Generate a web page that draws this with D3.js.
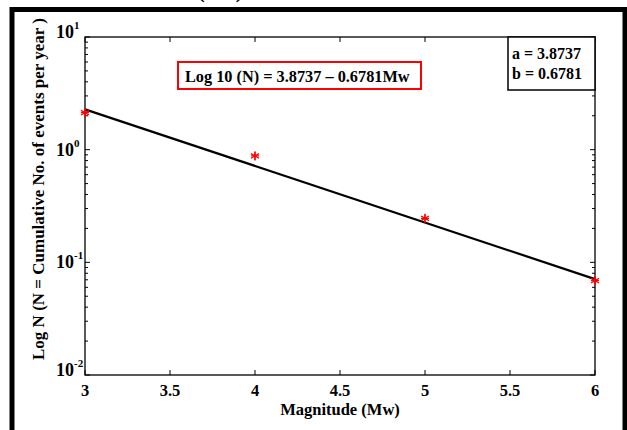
<!DOCTYPE html>
<html><head><meta charset="utf-8">
<script src="https://cdn.jsdelivr.net/npm/d3@7"></script>
<style>
html,body{margin:0;padding:0;background:#fff;}
text{font-family:"Liberation Serif","Times New Roman",serif;font-weight:bold;fill:#000;}
</style></head>
<body>
<svg id="c" width="627" height="430"></svg>
<script>
// Data
const magnitudes = [3, 4, 5, 6];
const cumulativeN = [2.13, 0.88, 0.246, 0.0688];
const fitMw = [3, 6];
const fitN = [2.28, 0.071];
const xTicks = [3, 3.5, 4, 4.5, 5, 5.5, 6];
const yTicks = [1e-2, 1e-1, 1e0, 1e1];
const yTickExps = ["-2", "-1", "0", "1"];
const equationText = "Log 10 (N) = 3.8737 \u2013 0.6781Mw";
const paramLines = ["a = 3.8737", "b = 0.6781"];
const xLabel = "Magnitude (Mw)";
const yLabel = "Log N (N = Cumulative No. of events per year )";

const svg = d3.select("#c");
const L = 85, R = 595, T = 37, B = 375;
const x = d3.scaleLinear().domain([3, 6]).range([L, R]);
const y = d3.scaleLog().domain([1e-2, 1e1]).range([B, T]);

// outer frame
svg.append("rect").attr("x", 12).attr("y", 9.5).attr("width", 613).attr("height", 440)
  .attr("fill", "none").attr("stroke", "#000").attr("stroke-width", 5);

// cropped title fragment
svg.append("text").attr("x", 198).attr("y", -2).attr("font-size", 20)
  .attr("letter-spacing", 10).text("(b)");

// minor ticks
const minor = [];
for (let e = -2; e < 1; e++) for (let k = 2; k <= 9; k++) minor.push(k * Math.pow(10, e));

const g = svg.append("g");
g.append("rect").attr("x", L).attr("y", T).attr("width", R - L).attr("height", B - T)
  .attr("fill", "none").attr("stroke", "#000").attr("stroke-width", 1.3);

xTicks.forEach(v => {
  g.append("line").attr("x1", x(v)).attr("x2", x(v)).attr("y1", B).attr("y2", B - 5).attr("stroke", "#000");
  g.append("line").attr("x1", x(v)).attr("x2", x(v)).attr("y1", T).attr("y2", T + 5).attr("stroke", "#000");
  g.append("text").attr("x", x(v)).attr("y", 396).attr("text-anchor", "middle")
    .attr("font-size", 16.5).text(String(v));
});
yTicks.forEach((v, i) => {
  g.append("line").attr("x1", L).attr("x2", L + 5).attr("y1", y(v)).attr("y2", y(v)).attr("stroke", "#000");
  g.append("line").attr("x1", R).attr("x2", R - 5).attr("y1", y(v)).attr("y2", y(v)).attr("stroke", "#000");
  const dy = (i === 0 || i === 3) ? 1 : 6;
  const t = g.append("text").attr("x", 56).attr("y", y(v) + dy).attr("font-size", 18);
  t.append("tspan").text("10");
  t.append("tspan").attr("dy", -9).attr("font-size", 11).text(yTickExps[i]);
});
minor.forEach(v => {
  g.append("line").attr("x1", L).attr("x2", L + 3).attr("y1", y(v)).attr("y2", y(v)).attr("stroke", "#000");
  g.append("line").attr("x1", R).attr("x2", R - 3).attr("y1", y(v)).attr("y2", y(v)).attr("stroke", "#000");
});

g.append("text").attr("x", (L + R) / 2).attr("y", 415).attr("text-anchor", "middle")
  .attr("font-size", 16.5).text(xLabel);
g.append("text").attr("transform", "translate(44,189) rotate(-90)").attr("text-anchor", "middle")
  .attr("font-size", 17).text(yLabel);

const line = d3.line().x(d => x(d[0])).y(d => y(d[1]));
g.append("path").datum(fitMw.map((m, i) => [m, fitN[i]])).attr("d", line)
  .attr("fill", "none").attr("stroke", "#000").attr("stroke-width", 2.2);

const sym = d3.symbol().type(d3.symbolAsterisk).size(60);
const pts = magnitudes.map((m, i) => [m, cumulativeN[i]]);
g.selectAll(".pt").data(pts).enter()
  .append("path").attr("d", sym)
  .attr("transform", d => `translate(${x(d[0])},${y(d[1])})`)
  .attr("fill", "none").attr("stroke", "#ff0000").attr("stroke-width", 1.3);
g.selectAll(".pt2").data(pts).enter()
  .append("path").attr("d", "M-4,0H4M0,-4V4")
  .attr("transform", d => `translate(${x(d[0])},${y(d[1])})`)
  .attr("fill", "none").attr("stroke", "#ff0000").attr("stroke-width", 1.3);

g.append("rect").attr("x", 178).attr("y", 62).attr("width", 243).attr("height", 27)
  .attr("fill", "#fff").attr("stroke", "#ff0000").attr("stroke-width", 2);
g.append("text").attr("x", 185).attr("y", 82).attr("font-size", 16.3).text(equationText);

g.append("rect").attr("x", 508).attr("y", T).attr("width", R - 508).attr("height", 53)
  .attr("fill", "#fff").attr("stroke", "#000").attr("stroke-width", 1.5);
paramLines.forEach((s, i) => {
  g.append("text").attr("x", 512).attr("y", 59 + i * 20).attr("font-size", 16).text(s);
});
</script>
</body></html>
